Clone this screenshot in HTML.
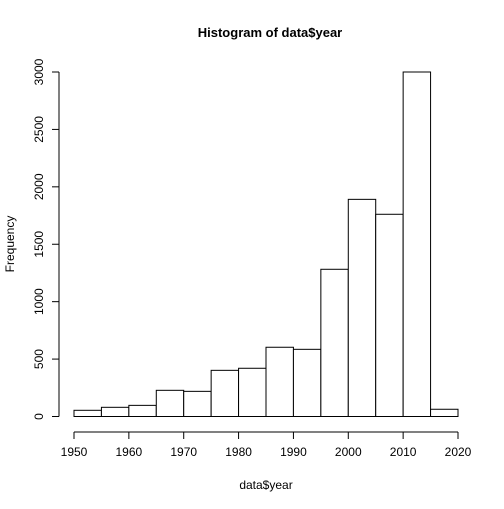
<!DOCTYPE html>
<html><head><meta charset="utf-8"><style>
body{margin:0;background:#fff}
svg text{font-family:"Liberation Sans",Arial,sans-serif;fill:#000}
</style></head><body>
<svg id="chart" width="504" height="504" viewBox="0 0 504 504" xmlns="http://www.w3.org/2000/svg">
<rect width="504" height="504" fill="#fff"/>
<text x="270" y="37" font-size="13" font-weight="bold" text-anchor="middle">Histogram of data$year</text>
<text x="266" y="489" font-size="12" text-anchor="middle">data$year</text>
<text x="0" y="0" font-size="12" text-anchor="middle" transform="translate(14,244) rotate(-90)">Frequency</text>
<g id="bars"></g><g id="xaxis"></g><g id="yaxis"></g>
</svg>
<script>
const binStarts=[1950,1955,1960,1965,1970,1975,1980,1985,1990,1995,2000,2005,2010,2015];
const counts=[54,80,97,228,219,402,420,603,585,1282,1891,1761,3000,63];
const xTicks=[1950,1960,1970,1980,1990,2000,2010,2020];
const yTicks=[0,500,1000,1500,2000,2500,3000];
const binWidth=5;
const NS="http://www.w3.org/2000/svg";
const xs=v=>74+(v-1950)*(384/70);
const ys=v=>416.5-v*(344.5/3000);
function mk(t,a,p){const e=document.createElementNS(NS,t);for(const k in a)e.setAttribute(k,a[k]);p.appendChild(e);return e;}
const bars=document.getElementById('bars');
binStarts.forEach((b,i)=>{
  const r=mk('rect',{x:xs(b),y:ys(counts[i]),width:xs(b+binWidth)-xs(b),height:ys(0)-ys(counts[i]),fill:'#fff',stroke:'#000','stroke-width':1},bars);
  
  
});
const xa=document.getElementById('xaxis');
const xl=mk('line',{x1:xs(xTicks[0]),x2:xs(xTicks[xTicks.length-1]),y1:432,y2:432,stroke:'#000'},xa);


xTicks.forEach(t=>{
  mk('line',{x1:xs(t),x2:xs(t),y1:432,y2:439,stroke:'#000'},xa);
  const tx=mk('text',{x:xs(t),y:456,'font-size':12,'text-anchor':'middle'},xa);
  tx.textContent=t;
  
  
});
const ya=document.getElementById('yaxis');
const yl=mk('line',{x1:59,x2:59,y1:ys(yTicks[0]),y2:ys(yTicks[yTicks.length-1]),stroke:'#000'},ya);


yTicks.forEach(t=>{
  mk('line',{x1:52,x2:59,y1:ys(t),y2:ys(t),stroke:'#000'},ya);
  const tx=mk('text',{x:0,y:0,'font-size':12,'text-anchor':'middle',transform:`translate(43,${ys(t)}) rotate(-90)`},ya);
  tx.textContent=t;
  
  
});
</script>
</body></html>
